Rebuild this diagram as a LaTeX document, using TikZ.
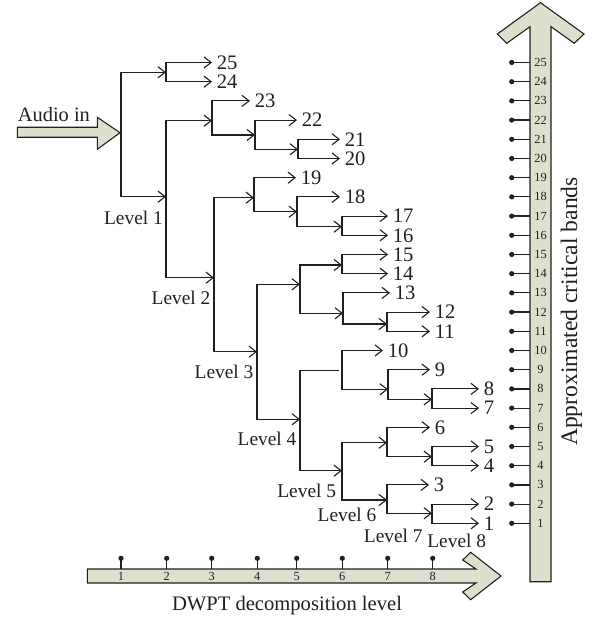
\documentclass[tikz,border=0pt]{standalone}
\usepackage{fontspec}
\setmainfont{Liberation Serif}
\usetikzlibrary{arrows.meta}

\definecolor{bandfill}{RGB}{220,225,205}
\definecolor{ink}{RGB}{35,31,32}

\tikzset{
  branch/.style={draw=ink, line width=0.55pt, -{Straight Barb[length=3.6pt,width=5.6pt]}},
  band/.style={anchor=west, inner xsep=2.2pt, inner ysep=0pt, text=ink, font=\fontsize{10.3}{12}\selectfont},
  lvl/.style={anchor=base, inner sep=0pt, text=ink, font=\fontsize{9.7}{12}\selectfont},
  bigarrow/.style={draw=ink, line width=0.55pt, fill=bandfill, line join=miter},
  tick/.style={draw=ink, line width=0.6pt},
  ticknum/.style={inner sep=0pt, text=ink, font=\fontsize{6.2}{7}\selectfont},
}

\begin{document}
\begin{tikzpicture}[x=0.5pt, y=-0.5pt]
  \useasboundingbox (0,0) rectangle (592,619);
  % Input arrow
  \draw[bigarrow] (17.3,127.3) -- (97.3,127.3) -- (97.3,117.3) -- (120,132.7)
    -- (97.3,149.3) -- (97.3,137.3) -- (17.3,137.3) -- cycle;
  \node[lvl, anchor=base west, font=\fontsize{10.2}{12}\selectfont] (audio) at (17.5,121.7) {Audio in};
  % Split points of the packet tree
  \coordinate (s1) at (121,132.7);
  \coordinate (a)  at (166,72.3);
  \coordinate (s2) at (166,196.7);
  \coordinate (c)  at (212,120.7);
  \coordinate (e)  at (255,135);
  \coordinate (f)  at (298,149.3);
  \coordinate (s3) at (214,277.7);
  \coordinate (i)  at (254,197.7);
  \coordinate (h)  at (297,211.7);
  \coordinate (g)  at (342,226.7);
  \coordinate (s4) at (257,351.7);
  \coordinate (m)  at (300,284.3);
  \coordinate (j)  at (342,265);
  \coordinate (l)  at (343,313.3);
  \coordinate (k)  at (387,324);
  \coordinate (s5) at (300,419.3);
  \coordinate (p)  at (342,370.7);
  \coordinate (o)  at (388,389.3);
  \coordinate (n)  at (432,399.3);
  \coordinate (s6) at (342,470.7);
  \coordinate (t)  at (387,442.7);
  \coordinate (v)  at (432,456.7);
  \coordinate (s7) at (387,500);
  \coordinate (s8) at (432,513.3);
  % Output bands
  \foreach \b/\x in {25/212,24/212,23/250,22/297,21/340,20/340,19/296,18/340,
      17/388,16/388,15/388,14/388,13/390,12/430,11/430,10/383,9/430,8/479,
      7/479,6/430,5/479,4/479,3/429,2/479,1/479}
    \node[band] (b\b) at (\x,{62.5+(25-\b)*19.2}) {\b};
  % Branches
  \draw[branch] (s1) |- (a);   \draw[branch] (s1) |- (s2);
  \draw[branch] (a) |- (b25.west);  \draw[branch] (a) |- (b24.west);
  \draw[branch] (s2) |- (c);   \draw[branch] (s2) |- (s3);
  \draw[branch] (c) |- (b23.west);  \draw[branch] (c) |- (e);
  \draw[branch] (e) |- (b22.west);  \draw[branch] (e) |- (f);
  \draw[branch] (f) |- (b21.west);  \draw[branch] (f) |- (b20.west);
  \draw[branch] (s3) |- (i);   \draw[branch] (s3) |- (s4);
  \draw[branch] (i) |- (b19.west);  \draw[branch] (i) |- (h);
  \draw[branch] (h) |- (b18.west);  \draw[branch] (h) |- (g);
  \draw[branch] (g) |- (b17.west);  \draw[branch] (g) |- (b16.west);
  \draw[branch] (s4) |- (m);   \draw[branch] (s4) |- (s5);
  \draw[branch] (m) |- (j);    \draw[branch] (m) |- (l);
  \draw[branch] (j) |- (b15.west);  \draw[branch] (j) |- (b14.west);
  \draw[branch] (l) |- (b13.west);  \draw[branch] (l) |- (k);
  \draw[branch] (k) |- (b12.west);  \draw[branch] (k) |- (b11.west);
  \draw[branch, -] (s5) |- ([xshift=-1.5pt]p);   \draw[branch] (s5) |- (s6);
  \draw[branch] (p) |- (b10.west);  \draw[branch] (p) |- (o);
  \draw[branch] (o) |- (b9.west);   \draw[branch] (o) |- (n);
  \draw[branch] (n) |- (b8.west);   \draw[branch] (n) |- (b7.west);
  \draw[branch] (s6) |- (t);   \draw[branch] (s6) |- (s7);
  \draw[branch] (t) |- (b6.west);   \draw[branch] (t) |- (v);
  \draw[branch] (v) |- (b5.west);   \draw[branch] (v) |- (b4.west);
  \draw[branch] (s7) |- (b3.west);  \draw[branch] (s7) |- (s8);
  \draw[branch] (s8) |- (b2.west);  \draw[branch] (s8) |- (b1.west);
  % Level labels
  \node[lvl] (lv1) at (133.5,225) {Level 1};
  \node[lvl] (lv2) at (181,305) {Level 2};
  \node[lvl] (lv3) at (224,378.3) {Level 3};
  \node[lvl] (lv4) at (267,445) {Level 4};
  \node[lvl] (lv5) at (306.7,497.5) {Level 5};
  \node[lvl] (lv6) at (347,521.7) {Level 6};
  \node[lvl] (lv7) at (393.3,542) {Level 7};
  \node[lvl] (lv8) at (456.7,547) {Level 8};
  % Critical band axis
  \draw[bigarrow] (530,581.7) -- (530,26.7) -- (506.7,43.3) -- (497.3,34) -- (540.5,2.7)
    -- (584,34) -- (574.3,43.3) -- (551,26.7) -- (551,581.7) -- cycle;
  \foreach \b in {1,...,25} {
    \draw[tick] (511.7,{62.5+(25-\b)*19.2}) -- (530,{62.5+(25-\b)*19.2});
    \fill[ink] (511.7,{62.5+(25-\b)*19.2}) circle (1.3pt);
    \node[ticknum] (r\b) at (540.5,{62.5+(25-\b)*19.2}) {\b};
  }
  \node[rotate=90, inner sep=0pt, text=ink, font=\fontsize{11.8}{14}\selectfont] (bandaxis)
    at (571.5,311.5) {Approximated critical bands};
  % Decomposition level axis
  \draw[bigarrow] (87.3,569) -- (476,569) -- (462.7,560) -- (470.7,552.3) -- (501,576)
    -- (470.7,599.7) -- (462.7,592) -- (476,583) -- (87.3,583) -- cycle;
  \foreach \d/\x in {1/121,2/166.7,3/211.7,4/257.3,5/296.7,6/342.3,7/387.7,8/432.7} {
    \draw[tick] (\x,569) -- (\x,558.3);
    \fill[ink] (\x,558.3) circle (1.3pt);
    \node[ticknum] (d\d) at (\x,576.3) {\d};
  }
  \node[lvl, font=\fontsize{10.3}{12}\selectfont] (levelaxis) at (287,610) {DWPT decomposition level};
\end{tikzpicture}
\end{document}
